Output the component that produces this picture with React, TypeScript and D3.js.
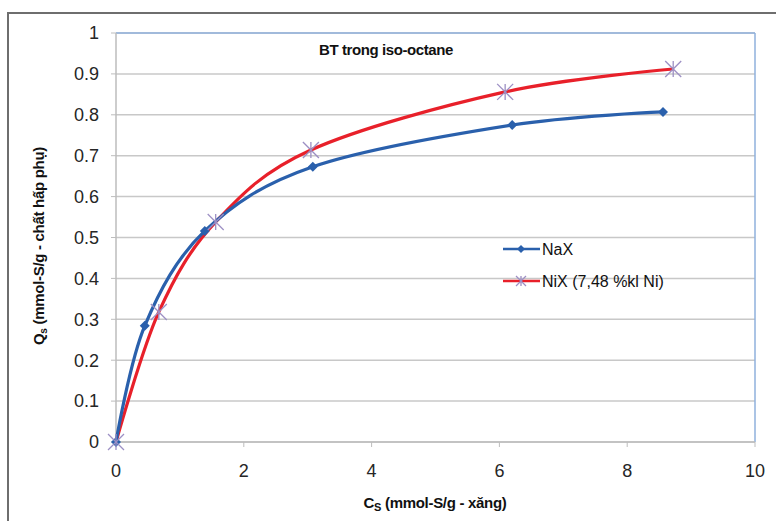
import * as d3 from "d3";

const W = 776;
const H = 521;

// plot area box (pixels)
const LEFT = 116;
const RIGHT = 755;
const TOP = 33;
const BOTTOM = 442;

const naxX = [0, 0.45, 1.39, 3.08, 6.2, 8.56];
const naxY = [0, 0.284, 0.516, 0.673, 0.775, 0.807];
const nixX = [0, 0.67, 1.56, 3.05, 6.09, 8.72];
const nixY = [0, 0.318, 0.538, 0.714, 0.856, 0.912];

const xTicks = [0, 2, 4, 6, 8, 10];
const yTicks = [0, 0.1, 0.2, 0.3, 0.4, 0.5, 0.6, 0.7, 0.8, 0.9, 1];

const BLUE = "#2a60ac";
const RED = "#e8202a";
const STAR = "#9c8fc4";
const FONT = "'Liberation Sans', Arial, sans-serif";

const Diamond = ({ x, y, r = 5 }: { x: number; y: number; r?: number }) => (
  <path d={`M${x},${y - r}L${x + r},${y}L${x},${y + r}L${x - r},${y}Z`} fill={BLUE} />
);

const Star = ({ x, y, r = 8 }: { x: number; y: number; r?: number }) => (
  <g stroke={STAR} strokeWidth={1.3}>
    <line x1={x - r} y1={y - r} x2={x + r} y2={y + r} />
    <line x1={x - r} y1={y + r} x2={x + r} y2={y - r} />
    <line x1={x} y1={y - r} x2={x} y2={y + r} />
  </g>
);

export default function App() {
  const x = d3.scaleLinear().domain([0, 10]).range([LEFT, RIGHT]);
  const y = d3.scaleLinear().domain([0, 1]).range([BOTTOM, TOP]);

  const line = d3
    .line<[number, number]>()
    .x((d) => x(d[0]))
    .y((d) => y(d[1]))
    .curve(d3.curveCatmullRom.alpha(0));

  const nax = naxX.map((v, i) => [v, naxY[i]] as [number, number]);
  const nix = nixX.map((v, i) => [v, nixY[i]] as [number, number]);

  return (
    <svg
      width={W}
      height={H}
      style={{ position: "absolute", left: 0, top: 0, background: "#fff" }}
      fontFamily={FONT}
    >
      {/* outer chart frame */}
      <rect x={8} y={13} width={W + 10} height={H + 10} fill="none" stroke="#6e6e6e" strokeWidth={2} />

      {/* gridlines */}
      {yTicks.map((t) => (
        <line key={t} x1={LEFT} x2={RIGHT} y1={y(t)} y2={y(t)} stroke="#c8c8c8" strokeWidth={1.5} />
      ))}
      {/* plot box */}
      <line x1={LEFT} x2={RIGHT} y1={TOP} y2={TOP} stroke="#8fb1dc" strokeWidth={1.5} />
      <line x1={RIGHT} x2={RIGHT} y1={TOP} y2={BOTTOM} stroke="#8fb1dc" strokeWidth={1.5} />
      <line x1={LEFT} x2={LEFT} y1={TOP} y2={BOTTOM} stroke="#bdbdbd" strokeWidth={1.5} />
      <line x1={LEFT} x2={RIGHT} y1={BOTTOM} y2={BOTTOM} stroke="#bdbdbd" strokeWidth={1.5} />

      {/* ticks */}
      {yTicks.map((t) => (
        <g key={t}>
          <line x1={LEFT - 5} x2={LEFT} y1={y(t)} y2={y(t)} stroke="#bdbdbd" />
          <text x={99} y={y(t)} dy="0.35em" textAnchor="end" fontSize={18} fill="#262626">
            {d3.format("")(+t.toFixed(1))}
          </text>
        </g>
      ))}
      {xTicks.map((t) => (
        <g key={t}>
          <line x1={x(t)} x2={x(t)} y1={BOTTOM} y2={BOTTOM + 5} stroke="#bdbdbd" />
          <text x={x(t)} y={477} textAnchor="middle" fontSize={18} fill="#262626">
            {t}
          </text>
        </g>
      ))}

      {/* series */}
      <path d={line(nix) ?? ""} fill="none" stroke={RED} strokeWidth={3.2} />
      <path d={line(nax) ?? ""} fill="none" stroke={BLUE} strokeWidth={3.2} />
      {nax.map((d, i) => (
        <Diamond key={i} x={x(d[0])} y={y(d[1])} />
      ))}
      {nix.map((d, i) => (
        <Star key={i} x={x(d[0])} y={y(d[1])} />
      ))}

      {/* title */}
      <text x={386} y={55} textAnchor="middle" fontSize={15} fontWeight="bold" fill="#111" letterSpacing={-0.4}>
        BT trong iso-octane
      </text>

      {/* legend */}
      <g fontSize={16} fill="#111">
        <line x1={503} x2={540} y1={249} y2={249} stroke={BLUE} strokeWidth={2.5} />
        <Diamond x={521} y={249} r={4} />
        <text x={542} y={249} dy="0.35em">NaX</text>
        <line x1={503} x2={540} y1={281} y2={281} stroke={RED} strokeWidth={2.5} />
        <Star x={521} y={281} r={5} />
        <text x={542} y={281} dy="0.35em">NiX (7,48 %kl Ni)</text>
      </g>

      {/* axis titles */}
      <text x={435} y={508} textAnchor="middle" fontSize={15} fontWeight="bold" fill="#111" letterSpacing={-0.3}>
        C<tspan fontSize={11} dy={3}>S</tspan>
        <tspan dy={-3}> (mmol-S/g - xăng)</tspan>
      </text>
      <text
        transform="translate(44,246) rotate(-90)"
        textAnchor="middle"
        fontSize={15}
        fontWeight="bold"
        fill="#111"
        letterSpacing={-0.3}
      >
        Q<tspan fontSize={10} dy={3}>s</tspan>
        <tspan dy={-3}> (mmol-S/g - chất hấp phụ)</tspan>
      </text>
    </svg>
  );
}
